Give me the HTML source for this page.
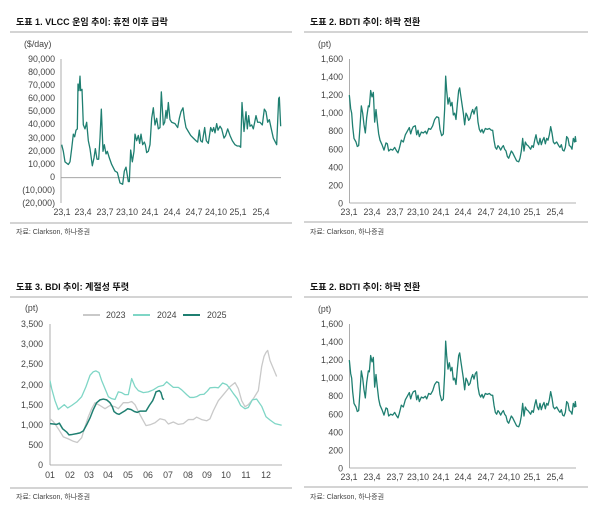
<!DOCTYPE html>
<html><head><meta charset="utf-8"><style>
html,body{margin:0;padding:0;background:#fff;}
svg{display:block;font-family:"Liberation Sans","Noto Sans CJK KR",sans-serif;}
.t{font-size:9px;font-weight:bold;fill:#111;}
.k{font-size:8.8px;fill:#444;}
.s{font-size:7px;fill:#444;}
.ax{stroke:#999;stroke-width:0.8;fill:none;}
.sep{stroke:#aaa;stroke-width:1;}
</style></head><body>
<svg id="c" width="600" height="514" viewBox="0 0 600 514" xmlns="http://www.w3.org/2000/svg">
<!-- Panel 1 -->
<text class="t" x="16" y="25">도표 1. VLCC 운임 추이: 휴전 이후 급락</text>
<line class="sep" x1="10" y1="32" x2="292" y2="32"/>
<text class="k" x="24" y="47">($/day)</text>
<g class="k" text-anchor="end">
<text x="55" y="62">90,000</text><text x="55" y="75">80,000</text><text x="55" y="88">70,000</text>
<text x="55" y="101">60,000</text><text x="55" y="114">50,000</text><text x="55" y="127">40,000</text>
<text x="55" y="141">30,000</text><text x="55" y="154">20,000</text><text x="55" y="167">10,000</text>
<text x="55" y="180">0</text><text x="55" y="193">(10,000)</text><text x="55" y="206">(20,000)</text>
</g>
<line class="ax" x1="61" y1="59" x2="61" y2="203"/>
<line class="ax" x1="61" y1="177.7" x2="281" y2="177.7"/>
<g class="k" text-anchor="middle">
<text x="62" y="215">23,1</text><text x="83" y="215">23,4</text><text x="105" y="215">23,7</text><text x="127" y="215">23,10</text><text x="150" y="215">24,1</text><text x="172" y="215">24,4</text><text x="194" y="215">24,7</text><text x="216" y="215">24,10</text><text x="238" y="215">25,1</text><text x="261" y="215">25,4</text>
</g>
<line class="sep" x1="10" y1="223" x2="292" y2="223"/>
<text class="s" x="16" y="234">자료: Clarkson, 하나증권</text>
<g id="p1"></g>

<g id="bd1"></g>
<g id="bd2" transform="translate(0,265)"></g>

<!-- Panel 3 -->
<text class="t" x="16" y="290">도표 3. BDI 추이: 계절성 뚜렷</text>
<line class="sep" x1="10" y1="297" x2="292" y2="297"/>
<text class="k" x="25" y="311">(pt)</text>
<line x1="83" y1="315" x2="100" y2="315" stroke="#c9c9c9" stroke-width="2"/><text class="k" x="106" y="318">2023</text>
<line x1="133" y1="315" x2="150" y2="315" stroke="#7fd6c6" stroke-width="2"/><text class="k" x="157" y="318">2024</text>
<line x1="183" y1="315" x2="200" y2="315" stroke="#1f7f71" stroke-width="2"/><text class="k" x="207" y="318">2025</text>
<g class="k" text-anchor="end">
<text x="43" y="327">3,500</text><text x="43" y="347">3,000</text><text x="43" y="367">2,500</text><text x="43" y="388">2,000</text><text x="43" y="408">1,500</text><text x="43" y="428">1,000</text><text x="43" y="448">500</text><text x="43" y="468">0</text>
</g>
<line class="ax" x1="50" y1="324" x2="50" y2="465"/>
<line class="ax" x1="50" y1="465" x2="282" y2="465"/>
<g class="k" text-anchor="middle">
<text x="50" y="478">01</text><text x="70" y="478">02</text><text x="89" y="478">03</text><text x="108" y="478">04</text><text x="128" y="478">05</text><text x="148" y="478">06</text><text x="168" y="478">07</text><text x="188" y="478">08</text><text x="207" y="478">09</text><text x="226" y="478">10</text><text x="246" y="478">11</text><text x="266" y="478">12</text>
</g>
<line class="sep" x1="10" y1="488" x2="292" y2="488"/>
<text class="s" x="16" y="499">자료: Clarkson, 하나증권</text>
<g id="p3"></g>
</svg>
<script>
var NS="http://www.w3.org/2000/svg";
function path(g,pts,fx,fy,col,w){var d="";for(var i=0;i<pts.length;i+=2){d+=(i?"L":"M")+fx(pts[i]).toFixed(2)+","+fy(pts[i+1]).toFixed(2);}
var p=document.createElementNS(NS,"path");p.setAttribute("d",d);p.setAttribute("fill","none");p.setAttribute("stroke",col);p.setAttribute("stroke-width",w);p.setAttribute("stroke-linejoin","round");g.appendChild(p);}
var TEAL="#1f7f71";
var v=[185,25,190,20,195,12,205,10,210,12,215,22,220,33,224,31,228,36,232,37,234,71,237,66,240,77,242,66,246,67,250,40,255,37,260,42,265,28,270,22,277,9,282,15,286,22,291,14,296,14,300,30,304,52,309,20,313,25,318,18,322,20,328,15,335,10,345,5,352,4,360,-4,368,-5,373,5,378,8,385,-3,388,-3,392,21,397,12,402,20,405,33,410,28,415,32,419,26,423,33,428,25,433,27,436,25,440,19,445,20,450,25,455,45,460,53,465,40,470,45,475,37,480,38,484,65,490,40,494,42,498,51,501,45,505,57,510,44,515,42,525,41,533,38,538,45,543,50,549,53,553,45,558,38,565,35,572,32,580,30,588,28,593,27,598,36,602,28,607,27,614,38,619,28,625,26,632,38,637,35,641,38,645,34,650,41,654,36,660,39,665,37,672,30,677,32,683,37,690,32,697,28,705,25,712,24,718,24,722,23,726,57,732,35,738,50,742,37,746,47,750,39,755,40,760,37,768,47,773,42,780,42,787,40,793,52,798,50,803,42,808,44,813,38,820,30,826,27,830,25,836,60,838,61,842,39];
path(document.getElementById("p1"),v,function(x){return x/3;},function(y){return (533-3.956*y)/3;},TEAL,1.3);

var b=[148,1200,152,1050,155,1000,158,850,162,720,168,680,172,630,176,640,180,850,184,1080,188,1000,192,870,196,780,200,950,205,1080,208,1070,212,1250,216,1180,220,1230,224,900,228,1040,232,900,236,770,240,700,246,650,252,590,258,670,262,660,266,580,272,600,278,590,284,620,290,580,294,560,298,610,304,700,310,680,316,760,322,800,328,840,332,770,336,820,340,850,346,860,350,760,354,810,358,740,364,790,370,780,376,800,380,770,386,830,392,820,398,860,404,930,410,960,416,950,420,820,425,750,430,770,434,1050,437,1410,440,1250,444,1100,448,1170,452,1080,456,1120,460,980,464,1000,468,930,472,1100,476,1250,479,1280,482,1200,486,1100,490,1000,494,870,498,1000,502,970,506,920,510,940,514,1000,518,1040,522,990,526,1050,530,1070,534,900,538,820,542,790,546,820,550,780,556,830,562,820,568,830,574,810,578,810,582,700,586,620,590,600,594,640,598,620,602,590,606,620,610,640,614,600,618,580,622,520,626,500,630,540,634,580,638,560,642,530,646,500,650,470,656,460,660,500,664,580,668,720,672,580,676,680,680,650,684,640,688,620,692,600,696,640,700,620,704,700,708,760,712,680,716,650,720,720,724,650,728,700,732,730,736,660,740,720,744,700,748,760,752,850,756,780,760,680,764,660,770,680,776,640,780,620,784,650,788,590,792,580,796,620,800,740,804,720,808,640,812,630,816,600,820,720,824,680,826,740,828,680];
function bdti(id){var g=document.getElementById(id);
var h='<text class="t" x="310" y="25">도표 2. BDTI 추이: 하락 전환</text><line class="sep" x1="304" y1="32" x2="588" y2="32"/><text class="k" x="318" y="47">(pt)</text>';
var ys=["1,600","1,400","1,200","1,000","800","600","400","200","0"];
for(var i=0;i<9;i++){h+='<text class="k" text-anchor="end" x="343" y="'+(62+i*18.05).toFixed(1)+'">'+ys[i]+'</text>';}
h+='<line class="ax" x1="349.5" y1="59" x2="349.5" y2="203"/><line class="ax" x1="349.5" y1="203" x2="576" y2="203"/>';
var xl=["23,1","23,4","23,7","23,10","24,1","24,4","24,7","24,10","25,1","25,4"],xp=[349,372,395,418,441,463,486,509,532,555];
for(var i=0;i<10;i++){h+='<text class="k" text-anchor="middle" x="'+xp[i]+'" y="215">'+xl[i]+'</text>';}
h+='<line class="sep" x1="304" y1="222" x2="588" y2="222"/><text class="s" x="310" y="234">자료: Clarkson, 하나증권</text>';
g.innerHTML=h;
path(g,b,function(x){return 300+x/3;},function(y){return (610-0.2706*y)/3;},TEAL,1.3);}
bdti("bd1");bdti("bd2");

var g3=document.getElementById("p3");
var fx=function(x){return x/3;},fy=function(y){return 270+(585-0.1206*y)/3;};
var a23=[150,1150,160,1080,175,900,190,700,205,650,220,590,232,560,245,680,255,950,265,1200,275,1400,285,1550,300,1480,315,1400,330,1480,345,1450,355,1400,370,1550,385,1550,395,1580,405,1500,420,1250,430,1100,438,980,450,1000,465,1050,480,1150,495,1120,505,1020,520,1070,535,1010,550,1030,565,1130,580,1130,590,1190,605,1130,620,1100,630,1150,640,1350,655,1600,670,1750,690,1950,705,2050,715,1900,725,1600,735,1450,745,1500,760,1650,775,1850,785,2450,792,2700,798,2800,803,2850,810,2600,820,2400,830,2200];
var a24=[150,2100,155,1900,165,1600,175,1380,185,1450,193,1500,203,1420,215,1480,230,1570,245,1700,258,1950,270,2230,280,2320,288,2340,297,2300,305,2100,315,1900,325,1700,335,1650,345,1630,355,1820,365,1800,375,1750,385,1750,395,2150,405,1950,415,1850,430,1800,445,1820,460,1870,475,1950,490,1980,500,2070,510,2000,520,1930,535,1930,545,1870,560,1750,570,1680,580,1680,590,1700,600,1750,612,1760,622,1840,630,1920,645,1930,655,1920,668,2040,680,2000,690,1900,700,1780,712,1650,722,1480,735,1400,745,1430,757,1620,770,1640,785,1460,798,1200,810,1120,825,1030,845,990];
var a25=[150,1030,160,1020,170,1010,178,1040,188,900,200,820,207,750,217,760,230,780,240,800,250,850,260,1000,270,1170,280,1380,290,1550,300,1620,310,1640,320,1620,330,1550,337,1450,342,1330,350,1280,357,1260,365,1300,375,1350,383,1400,393,1380,403,1330,412,1310,420,1340,430,1340,438,1340,448,1480,458,1600,463,1700,468,1820,478,1850,483,1800,488,1650,492,1630];
path(g3,a23,fx,fy,"#c9c9c9",1.3);
path(g3,a24,fx,fy,"#7fd6c6",1.3);
path(g3,a25,fx,fy,TEAL,1.5);
</script>
</body></html>
